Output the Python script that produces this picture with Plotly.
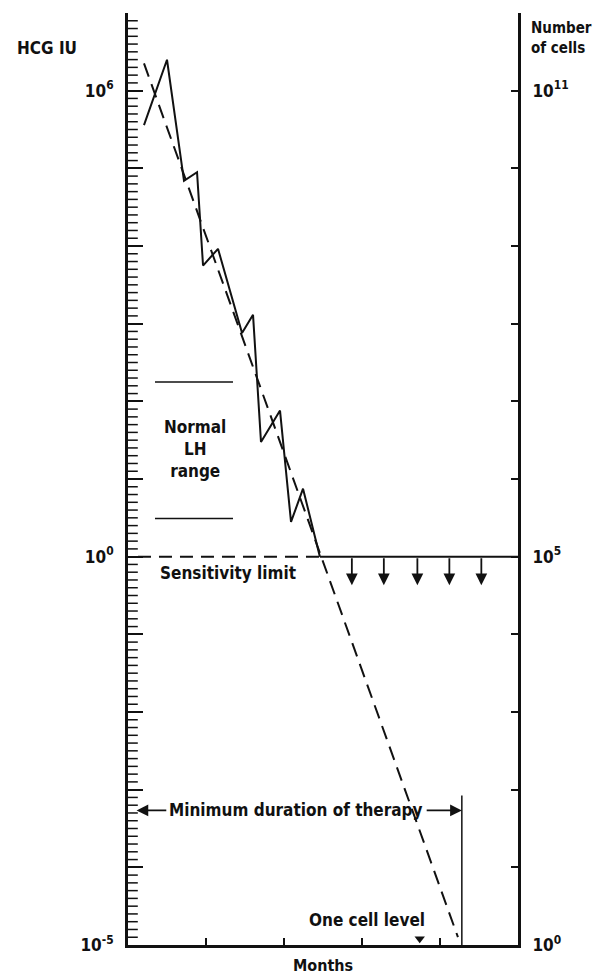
import plotly.graph_objects as go
import math

# ---- data ----
hcg_months = [0.205, 0.50, 0.718, 0.885, 0.962, 1.154, 1.462, 1.603, 1.705, 1.949, 2.09, 2.244, 2.46]
hcg_iu = [3.6e5, 2.5e6, 6.9e4, 8.9e4, 5.6e3, 9.2e3, 7.6e2, 1.3e3, 30, 76, 2.8, 7.5, 1.0]

plateau_months = [2.46, 5.0]
plateau_iu = [1.0, 1.0]

sens_months = [0.128, 2.46]
sens_iu = [1.0, 1.0]

trend_months = [0.205, 4.23]
trend_iu = [2.24e6, 1.26e-5]

lh_months = [0.346, 1.346]
lh_upper = 178.0
lh_lower = 3.1

therapy_end_month = 4.28
therapy_line_iu = [8.4e-4, 1e-5]
therapy_arrow_iu = 5.4e-4

below_limit_months = [2.87, 3.28, 3.71, 4.12, 4.53]
below_limit_tip_iu = 0.43

one_cell_month = 3.74
one_cell_iu = 1.2e-5

left_label_vals = [1e-5, 1e0, 1e6]
left_label_text = ["10<sup>-5</sup>", "10<sup>0</sup>", "10<sup>6</sup>"]
left_decades = list(range(-5, 8))
fine_tick_iu = [10 ** (k + s / 10) for k in range(-5, 7) for s in range(1, 10)]
right_label_vals = [1e0, 1e5, 1e11]
right_label_text = ["10<sup>0</sup>", "10<sup>5</sup>", "10<sup>11</sup>"]
right_decades = list(range(0, 13))
month_ticks = [1, 2, 3, 4]

FONT = "DejaVu Sans Condensed, Liberation Sans Narrow, Arial, sans-serif"
BLACK = "#111111"
TXT = dict(size=17, weight="bold")

fig = go.Figure()

fig.add_trace(go.Scatter(x=sens_months, y=sens_iu, mode="lines",
                         line=dict(color=BLACK, width=2, dash="13px,8px"), hoverinfo="skip"))
fig.add_trace(go.Scatter(x=trend_months, y=trend_iu, mode="lines",
                         line=dict(color=BLACK, width=2, dash="14px,8px"), hoverinfo="skip"))
fig.add_trace(go.Scatter(x=hcg_months, y=hcg_iu, mode="lines",
                         line=dict(color=BLACK, width=2), hoverinfo="skip"))
fig.add_trace(go.Scatter(x=plateau_months, y=plateau_iu, mode="lines",
                         line=dict(color=BLACK, width=2), hoverinfo="skip"))
fig.add_trace(go.Scatter(x=lh_months, y=[lh_upper, lh_upper], mode="lines",
                         line=dict(color=BLACK, width=1.5), hoverinfo="skip"))
fig.add_trace(go.Scatter(x=lh_months, y=[lh_lower, lh_lower], mode="lines",
                         line=dict(color=BLACK, width=1.5), hoverinfo="skip"))
fig.add_trace(go.Scatter(x=[therapy_end_month, therapy_end_month], y=therapy_line_iu, mode="lines",
                         line=dict(color=BLACK, width=1.5), hoverinfo="skip"))
fig.add_trace(go.Scatter(x=[one_cell_month], y=[one_cell_iu], mode="markers",
                         marker=dict(symbol="triangle-down", size=9, color=BLACK), hoverinfo="skip"))
# fine tenth-of-decade ticks on the left axis (outer half clipped by the plot area)
fig.add_trace(go.Scatter(x=[0] * len(fine_tick_iu), y=fine_tick_iu, mode="markers",
                         cliponaxis=True,
                         marker=dict(symbol="line-ew", size=14, color=BLACK,
                                     line=dict(width=1.5, color=BLACK)),
                         hoverinfo="skip"))
# invisible anchors so the overlay axes are drawn
for ax_name in ["y2", "y3", "y5"]:
    fig.add_trace(go.Scatter(x=[0], y=[1], yaxis=ax_name, mode="markers",
                             marker=dict(size=1, opacity=0), hoverinfo="skip"))

ann = []
for m in below_limit_months:
    ann.append(dict(x=m, y=math.log10(below_limit_tip_iu), ax=m, ay=0, xref="x", yref="y",
                    axref="x", ayref="y", text="", showarrow=True, arrowhead=2,
                    arrowsize=1.3, arrowwidth=1.8, arrowcolor=BLACK))
ya = math.log10(therapy_arrow_iu)
ann.append(dict(x=0.11, y=ya, ax=0.51, ay=ya, xref="x", yref="y", axref="x", ayref="y",
                text="", showarrow=True, arrowhead=2, arrowsize=1.3, arrowwidth=1.8, arrowcolor=BLACK))
ann.append(dict(x=therapy_end_month, y=ya, ax=3.81, ay=ya, xref="x", yref="y", axref="x", ayref="y",
                text="", showarrow=True, arrowhead=2, arrowsize=1.3, arrowwidth=1.8, arrowcolor=BLACK))
ann.append(dict(x=2.16, y=ya, xref="x", yref="y", text="Minimum duration of therapy",
                showarrow=False, font=TXT))
ann.append(dict(x=1.28, y=-0.21, xref="x", yref="y", text="Sensitivity limit",
                showarrow=False, font=TXT))
ann.append(dict(x=0.86, y=1.38, xref="x", yref="y", text="Normal<br>LH<br>range",
                showarrow=False, font=TXT))
ann.append(dict(x=3.06, y=-4.68, xref="x", yref="y", text="One cell level",
                showarrow=False, font=TXT))
ann.append(dict(x=-0.208, y=0.962, xref="paper", yref="paper", text="HCG IU",
                xanchor="center", yanchor="middle", showarrow=False, font=TXT))
ann.append(dict(x=1.028, y=0.996, xref="paper", yref="paper", text="Number<br>of cells",
                showarrow=False, xanchor="left", yanchor="top", align="left",
                font=dict(size=15, weight="bold")))
ann.append(dict(x=0.5, y=-0.0225, xref="paper", yref="paper", text="Months",
                xanchor="center", yanchor="middle", showarrow=False, font=dict(size=16, weight="bold")))

common = dict(showgrid=False, zeroline=False)
fig.update_layout(
    width=597, height=976,
    margin=dict(l=128, r=79, t=13, b=31),
    paper_bgcolor="white", plot_bgcolor="white",
    showlegend=False,
    font=dict(family=FONT, color=BLACK, size=17),
    annotations=ann,
    xaxis=dict(range=[0, 5], showline=True, linewidth=3, linecolor=BLACK, ticks="inside",
               tickvals=month_ticks, ticklen=7, tickwidth=2, tickcolor=BLACK,
               showticklabels=False, **common),
    # left: labelled log axis
    yaxis=dict(type="log", range=[-5, 7], showline=True, linewidth=3, linecolor=BLACK,
               ticks="", tickmode="array", tickvals=left_label_vals, ticktext=left_label_text,
               ticklabelstandoff=8, tickfont=dict(size=17, weight="bold"), **common),
    # left: decade ticks
    yaxis3=dict(range=[-5, 7], overlaying="y", side="left", anchor="x", showline=False,
                ticks="inside", tickmode="array", tickvals=left_decades, ticklen=15, tickwidth=2,
                tickcolor=BLACK, showticklabels=False, **common),
    # right: labelled log axis of cells
    yaxis2=dict(type="log", range=[0, 12], overlaying="y", side="right", anchor="x",
                showline=True, linewidth=3, linecolor=BLACK, ticks="", tickmode="array",
                tickvals=right_label_vals, ticktext=right_label_text, ticklabelstandoff=8,
                tickfont=dict(size=17, weight="bold"), **common),
    # right: decade ticks
    yaxis5=dict(range=[0, 12], overlaying="y", side="right", anchor="x", showline=False,
                ticks="inside", tickmode="array", tickvals=right_decades, ticklen=7, tickwidth=2,
                tickcolor=BLACK, showticklabels=False, **common),
)

fig.write_html("out.html")
